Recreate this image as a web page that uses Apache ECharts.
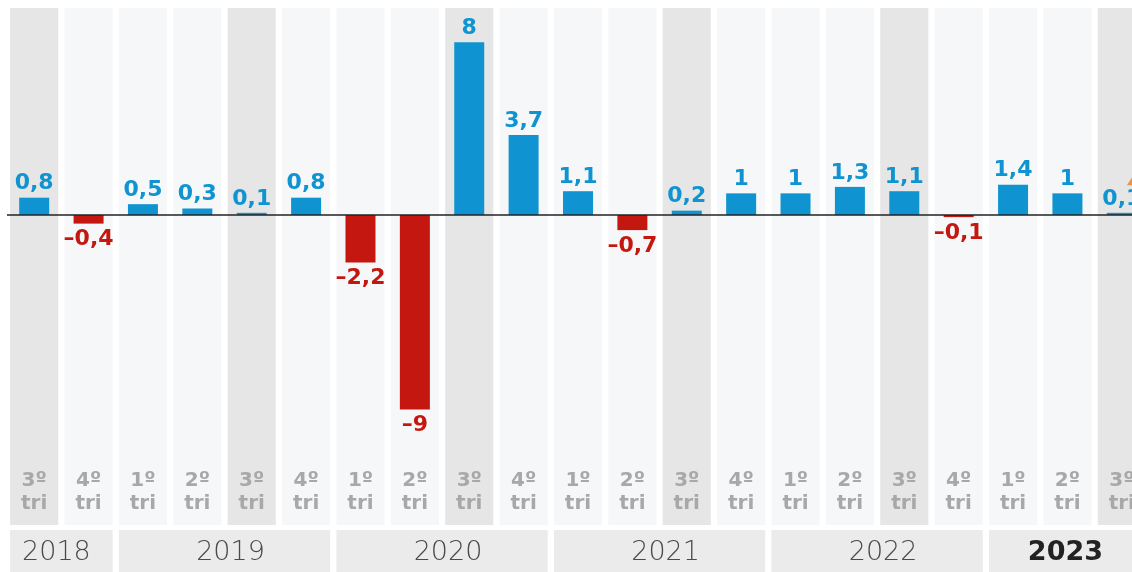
<!DOCTYPE html>
<html>
<head>
<meta charset="utf-8">
<script src="https://cdn.jsdelivr.net/npm/echarts@6/dist/echarts.min.js"></script>
<style>
html,body{margin:0;padding:0;background:#fff;overflow:hidden;}
#chart{width:1160px;height:572px;}
</style>
</head>
<body>
<div id="chart"></div>
<script>
// Data
const quarters = ['3º', '4º', '1º', '2º', '3º', '4º', '1º', '2º', '3º', '4º', '1º', '2º', '3º', '4º', '1º', '2º', '3º', '4º', '1º', '2º', '3º'];
const values = [0.8, -0.4, 0.5, 0.3, 0.1, 0.8, -2.2, -9, 8, 3.7, 1.1, -0.7, 0.2, 1, 1, 1.3, 1.1, -0.1, 1.4, 1, 0.1];
const yearLabels = ['2018', '2019', '2020', '2021', '2022', '2023'];
const yearStart = [0, 2, 6, 10, 14, 18];
const yearEnd = [1, 5, 9, 13, 17, 20];
const markerIndex = 20;
const markerValue = 1.65;

const BLUE = '#0f94d1', RED = '#c4170f';
const categories = quarters.map((q, i) => q + '\ntri');

const chart = echarts.init(document.getElementById('chart'));

const barData = values.map(v => ({
  value: v,
  itemStyle: { color: v >= 0 ? BLUE : RED },
  label: {
    position: v >= 0 ? 'top' : 'bottom',
    color: v >= 0 ? BLUE : RED,
    distance: v >= 0 ? 3 : 5
  }
}));

const option = {
  animation: false,
  backgroundColor: '#ffffff',
  grid: [
    { left: 7, width: 1142, top: 8, height: 517 },
    { left: 7, width: 1142, top: 530, height: 42 }
  ],
  xAxis: [
    {
      type: 'category', gridIndex: 0, data: categories, z: 5,
      axisLine: { show: false, onZero: false }, axisTick: { show: false },
      axisLabel: {
        inside: true, margin: 10, interval: 0,
        fontFamily: 'DejaVu Sans', fontWeight: 'bold', fontSize: 20,
        lineHeight: 23, color: '#a8a8a8', verticalAlign: 'bottom'
      },
      splitLine: { show: false }
    },
    {
      type: 'category', gridIndex: 1, data: categories, show: false
    }
  ],
  yAxis: [
    { type: 'value', gridIndex: 0, min: -14.35, max: 9.58, show: false, splitLine: { show: false } },
    { type: 'value', gridIndex: 1, min: 0, max: 1, show: false, splitLine: { show: false } }
  ],
  series: [
    {
      type: 'custom', xAxisIndex: 0, yAxisIndex: 0, z: 0, silent: true,
      data: values.map((v, i) => [i, 0]),
      renderItem: function (params, api) {
        const cs = params.coordSys;
        const c = api.coord([api.value(0), 0]);
        const w = api.size([1, 0])[0] * 0.885;
        const q = quarters[params.dataIndex];
        return {
          type: 'rect',
          shape: { x: c[0] - w / 2, y: cs.y, width: w, height: cs.height },
          style: { fill: q === '3º' ? '#e6e6e6' : '#f6f7f9' }
        };
      }
    },
    {
      type: 'bar', xAxisIndex: 0, yAxisIndex: 0, z: 3,
      barWidth: 30,
      data: barData,
      label: {
        show: true,
        fontFamily: 'DejaVu Sans', fontWeight: 'bold', fontSize: 22,
        formatter: p => String(p.value).replace('.', ',').replace('-', '–')
      },
      markLine: {
        silent: true, symbol: 'none', label: { show: false },
        lineStyle: { color: '#222', width: 1.5, type: 'solid' },
        data: [{ yAxis: 0 }]
      }
    },
    {
      type: 'scatter', xAxisIndex: 0, yAxisIndex: 0, z: 4,
      symbol: 'triangle', symbolSize: [16, 12], symbolOffset: [13, 0],
      itemStyle: { color: '#f07d1a' },
      data: [[markerIndex, markerValue]]
    },
    {
      type: 'custom', xAxisIndex: 1, yAxisIndex: 1, silent: true,
      data: yearLabels.map((y, i) => [yearStart[i], yearEnd[i]]),
      renderItem: function (params, api) {
        const cs = params.coordSys;
        const i = params.dataIndex;
        const c1 = api.coord([api.value(0), 0]);
        const c2 = api.coord([api.value(1), 0]);
        const w = api.size([1, 0])[0] * 0.885;
        const x0 = c1[0] - w / 2, x1 = c2[0] + w / 2;
        const last = i === yearLabels.length - 1;
        const first = i === 0;
        return {
          type: 'group',
          children: [
            { type: 'rect', shape: { x: x0, y: cs.y, width: x1 - x0, height: cs.height + 4 },
              style: { fill: '#ebebeb' } },
            { type: 'text', x: (x0 + x1) / 2 + (last ? -2 : (first ? -5 : 6)), y: cs.y + cs.height / 2 + 2,
              style: {
                text: yearLabels[i], align: 'center', verticalAlign: 'middle',
                fontFamily: 'DejaVu Sans', fontSize: 27,
                fontWeight: last ? 'bold' : 200,
                fill: last ? '#222' : '#4a4a4a'
              } }
          ]
        };
      }
    }
  ]
};
chart.setOption(option);
</script>
</body>
</html>
